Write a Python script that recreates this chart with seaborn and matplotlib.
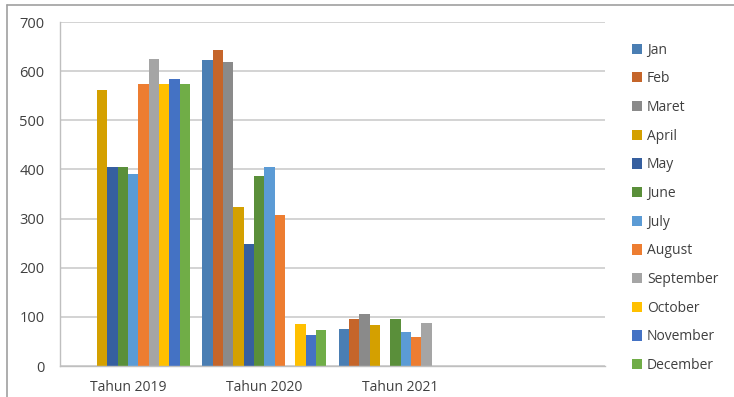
import matplotlib
matplotlib.use("Agg")
import matplotlib.pyplot as plt
from matplotlib.lines import Line2D
from matplotlib.patches import Patch
import seaborn as sns
import pandas as pd
import numpy as np

years = ["Tahun 2019", "Tahun 2020", "Tahun 2021"]
months = ["Jan", "Feb", "Maret", "April", "May", "June", "July", "August",
          "September", "October", "November", "December"]
v2019 = [0, 0, 0, 561, 404, 404, 391, 573, 624, 573, 583, 573]
v2020 = [623, 644, 619, 324, 249, 386, 405, 307, 0, 86, 64, 74]
v2021 = [76, 95, 105, 84, 0, 95, 69, 58, 88, 0, 0, 0]
colors = ["#4A7EB3", "#C5652A", "#8A8A8A", "#D4A000", "#365F9F", "#5A8F3A",
          "#5B9BD5", "#ED7D31", "#A5A5A5", "#FFC000", "#4472C4", "#70AD47"]

rows = []
for y, vals in zip(years, [v2019, v2020, v2021]):
    for m, v in zip(months, vals):
        rows.append({"Tahun": y, "Bulan": m, "Nilai": v})
df = pd.DataFrame(rows)

sns.set_style("white")
plt.rcParams["font.family"] = ["Open Sans", "DejaVu Sans"]

fig = plt.figure(figsize=(7.34, 3.97), dpi=100)
ax = fig.add_axes([60 / 734, 31 / 397, 545 / 734, 344 / 397])

sns.barplot(data=df, x="Tahun", y="Nilai", hue="Bulan", order=years,
            hue_order=months, palette=colors, width=0.91, dodge=True,
            errorbar=None, linewidth=0, saturation=1, ax=ax, legend=False)

ax.set_xlim(-0.5, 3.5)
ax.set_ylim(0, 700)
ax.set_yticks(np.arange(0, 701, 100))
ax.yaxis.grid(True, color="#D0D0D0", linewidth=1.3)
ax.set_axisbelow(True)
ax.set_xlabel("")
ax.set_ylabel("")
for s in ["top", "right"]:
    ax.spines[s].set_visible(False)
ax.spines["left"].set_color("#BFBFBF")
ax.spines["bottom"].set_color("#BFBFBF")
ax.spines["left"].set_linewidth(1.0)
ax.spines["bottom"].set_linewidth(1.0)

ax.set_xticks(range(len(years)))
ax.set_xticklabels(years)
ax.set_xticks(np.arange(-0.5, 3.6, 1.0), minor=True)
ax.tick_params(axis="x", which="major", length=0, pad=10, labelsize=10, labelcolor="#404040")
ax.tick_params(axis="x", which="minor", length=5, color="#BFBFBF", width=1)
ax.tick_params(axis="y", which="major", length=0, labelsize=10.5,
               labelcolor="#404040", pad=11)

handles = [Patch(facecolor=c, edgecolor="none") for c in colors]
leg = fig.legend(handles, months, loc="upper left", bbox_to_anchor=(626 / 734, 1 - 37 / 397),
                 frameon=False, fontsize=10, handlelength=0.75, handleheight=0.75,
                 handletextpad=0.35, labelspacing=0.985, borderaxespad=0)
for t in leg.get_texts():
    t.set_color("#404040")

# outer frame (top and left edges)
fig.add_artist(Line2D([7 / 734, 1.0], [1 - 5 / 397, 1 - 5 / 397], color="#A0A0A0", linewidth=1.2))
fig.add_artist(Line2D([7 / 734, 7 / 734], [0, 1 - 5 / 397], color="#A0A0A0", linewidth=1.2))

fig.savefig("out.png", dpi=100)
